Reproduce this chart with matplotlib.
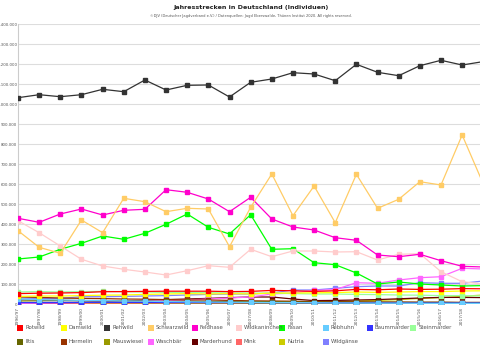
import numpy as np
import matplotlib
matplotlib.use("Agg")
import matplotlib.pyplot as plt
from matplotlib.ticker import FuncFormatter

# --- Data: hunting bag per season (individuals) ---
seasons = [
    "1996/97", "1997/98", "1998/99", "1999/00", "2000/01", "2001/02",
    "2002/03", "2003/04", "2004/05", "2005/06", "2006/07", "2007/08",
    "2008/09", "2009/10", "2010/11", "2011/12", "2012/13", "2013/14",
    "2014/15", "2015/16", "2016/17", "2017/18", "2018/19",
]

rotwild = [52000, 54000, 55000, 57000, 61500, 62000, 63000, 64000, 64000, 64000,
           62000, 63000, 68000, 66000, 63000, 66000, 73000, 71000, 75000, 73000,
           74000, 77000, 76000]
damwild = [38000, 40000, 40000, 42000, 44000, 45000, 48000, 50000, 52000, 50000,
           52000, 50000, 55000, 55000, 56000, 57000, 60000, 58000, 60000, 62000,
           62000, 65000, 66000]
rehwild = [1031500, 1046500, 1036500, 1046500, 1073500, 1061500, 1120000, 1070000,
           1093500, 1095000, 1035000, 1108500, 1125000, 1156500, 1150000, 1116500,
           1198500, 1158500, 1141500, 1191500, 1218500, 1195000, 1212000]
schwarzwild = [366500, 283500, 253500, 420000, 356500, 528500, 511500, 461500,
               478500, 475000, 286500, 483500, 650000, 441500, 590000, 406500,
               648500, 478500, 523500, 611500, 595000, 845000, 600000]
feldhase = [428500, 408500, 450000, 475000, 445000, 468500, 473500, 571500,
            558500, 525000, 461500, 533500, 425000, 385000, 370000, 331500,
            318500, 245000, 236500, 248500, 216500, 188500, 185000]
wildkaninchen = [416500, 356500, 290000, 223500, 190000, 173500, 160000, 145000,
                 166500, 191500, 183500, 273500, 236500, 265000, 265000, 260000,
                 261500, 220000, 248500, 251500, 161500, 111500, 100000]
fasan = [225000, 235000, 273500, 303500, 340000, 323500, 353500, 398500, 450000,
         383500, 350000, 446500, 273500, 276500, 206500, 196500, 155000, 100000,
         110000, 100000, 95000, 90000, 92000]
rebhuhn = [25000, 22000, 20000, 18000, 17000, 15000, 14000, 12000, 11000, 10000,
           9000, 8000, 7000, 7000, 6000, 5000, 5000, 4000, 4000, 3000, 3000,
           3000, 3000]
baummarder = [7000, 7500, 8000, 8000, 8500, 8000, 8000, 7500, 7500, 7000, 7000,
              6500, 6500, 6000, 6000, 6000, 5500, 5500, 5000, 5000, 5000, 5000,
              5000]
steinmarder = [60000, 62000, 60000, 62000, 63000, 62000, 60000, 58000, 58000,
               57000, 55000, 55000, 54000, 52000, 50000, 50000, 48000, 47000,
               45000, 44000, 42000, 42000, 40000]
iltis = [20000, 19000, 18000, 17000, 16000, 15000, 14000, 13000, 13000, 12000,
         12000, 11000, 11000, 10000, 10000, 9000, 9000, 9000, 8000, 8000, 8000,
         7000, 7000]
hermelin = [35000, 33000, 30000, 28000, 27000, 25000, 24000, 22000, 20000, 20000,
            18000, 16000, 15000, 14000, 12000, 12000, 11000, 10000, 10000, 9000,
            9000, 8000, 8000]
mauswiesel = [10000, 9000, 8000, 8000, 7000, 7000, 6000, 6000, 5000, 5000, 5000,
              4000, 4000, 4000, 4000, 3000, 3000, 3000, 3000, 3000, 2000, 2000,
              2000]
waschbaer = [3000, 4000, 5000, 7000, 9000, 11000, 14000, 17000, 20000, 25000,
             30000, 35000, 50000, 55000, 68000, 72000, 106500, 103500, 120000,
             131500, 136500, 178500, 175000]
marderhund = [2000, 3000, 5000, 8000, 11000, 14000, 18000, 22000, 25000, 28000,
              32000, 35000, 35000, 25000, 17000, 18000, 20000, 22000, 26000,
              30000, 33000, 33000, 32000]
mink = [500, 600, 800, 1000, 1200, 1500, 1800, 2000, 2200, 2500, 2800, 3000,
        3200, 3500, 3800, 4000, 4200, 4500, 4800, 5000, 5000, 5200, 5500]
nutria = [1000, 1000, 1000, 2000, 2000, 2000, 3000, 3000, 4000, 5000, 6000,
          7000, 8000, 9000, 10000, 12000, 15000, 18000, 22000, 28000, 32000,
          38000, 45000]
wildgaense = [25000, 27000, 28000, 36500, 36500, 38000, 40000, 42000, 45000,
              48000, 50000, 50000, 55000, 70000, 70000, 78500, 86500, 90000,
              90000, 106500, 103500, 103500, 115000]

names = ["Rotwild", "Damwild", "Rehwild", "Schwarzwild", "Feldhase",
         "Wildkaninchen", "Fasan", "Rebhuhn", "Baummarder", "Steinmarder",
         "Iltis", "Hermelin", "Mauswiesel", "Waschbär", "Marderhund", "Mink",
         "Nutria", "Wildgänse"]
series = [rotwild, damwild, rehwild, schwarzwild, feldhase, wildkaninchen,
          fasan, rebhuhn, baummarder, steinmarder, iltis, hermelin, mauswiesel,
          waschbaer, marderhund, mink, nutria, wildgaense]
colors = ["#FF0000", "#FFFF00", "#333333", "#FFCC66", "#FF00CC", "#FFCCCC",
          "#00FF00", "#66CCFF", "#3333FF", "#99FF99", "#666600", "#993300",
          "#999900", "#FF66FF", "#660000", "#FF6666", "#CCCC00", "#8080FF"]

W, H = 480, 350
fig = plt.figure(figsize=(W / 100, H / 100), dpi=100)

# plot area: x from 18px to the right edge, y from 24px (1.4M) to 304px (0)
ax = fig.add_axes([18 / W, 1 - 304 / H, 1 - 18 / W, 280 / H])
x = np.arange(len(seasons))

# draw the big series last so they sit on top
order = list(range(len(series)))[::-1]
for k in order:
    ax.plot(x, series[k], color=colors[k], lw=0.9, marker="s", ms=2.2,
            mec=colors[k], mfc=colors[k], zorder=3)

xmax = (W - 18) / 21.15
ax.set_xlim(0, xmax)
ax.set_ylim(0, 1400000)
ax.set_yticks(np.arange(0, 1400001, 100000))
ax.yaxis.set_major_formatter(
    FuncFormatter(lambda v, p: f"{int(v):,}".replace(",", ".")))
shown = [i for i in x if i <= xmax]
ax.set_xticks(shown)
ax.set_xticklabels([seasons[i] for i in shown], rotation=90)
ax.tick_params(axis="y", labelsize=2.8, labelcolor="#555555", length=0,
               pad=0.6)
ax.tick_params(axis="x", labelsize=3.2, labelcolor="#555555", length=0, pad=2)
ax.grid(axis="y", color="#dddddd", lw=0.8, zorder=0)
for side in ["top", "right", "bottom"]:
    ax.spines[side].set_visible(False)
ax.spines["left"].set_color("#cccccc")
ax.spines["left"].set_linewidth(0.8)
ax.set_axisbelow(True)

# title and source line
fig.text(251 / W, 1 - 8 / H, "Jahresstrecken in Deutschland (Individuen)",
         ha="center", va="center", fontsize=4.6, fontweight="bold",
         color="#222222")
fig.text(251 / W, 1 - 15.5 / H,
         "©DJV (Deutscher Jagdverband e.V.) / Datenquellen: Jagd Eberswalde, "
         "Thünen Institut 2020. All rights reserved.",
         ha="center", va="center", fontsize=2.6, color="#555555")

# legend in a fixed grid of 10 columns
lax = fig.add_axes([0, 0, 1, 1], facecolor="none")
lax.set_xlim(0, W)
lax.set_ylim(H, 0)
lax.axis("off")
for k, name in enumerate(names):
    row, col = divmod(k, 10)
    lx = 20 + 43.7 * col
    ly = 327.5 + 14 * row
    lax.scatter([lx], [ly], marker="s", s=16, color=colors[k], lw=0)
    lax.text(lx + 5, ly, name, fontsize=3.9, color="#555555",
             ha="left", va="center")

fig.savefig("out.png", dpi=100)
